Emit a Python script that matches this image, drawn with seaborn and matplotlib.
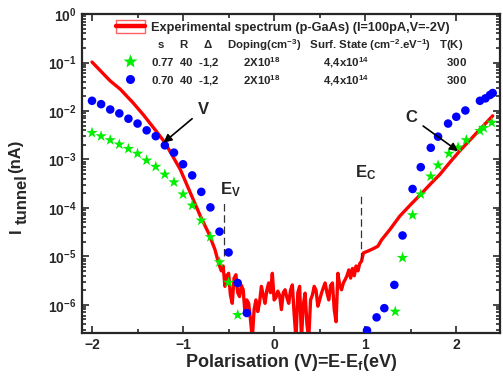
import numpy as np
import pandas as pd
import seaborn as sns
import matplotlib.pyplot as plt
from matplotlib.ticker import MultipleLocator, LogLocator, NullFormatter
from matplotlib.legend_handler import HandlerTuple
from matplotlib.patches import Rectangle
from matplotlib.lines import Line2D

sns.set_style("ticks")
plt.rcParams['font.family'] = ['Liberation Sans', 'DejaVu Sans']
plt.rcParams['font.weight'] = 'bold'
plt.rcParams['axes.labelweight'] = 'bold'
plt.rcParams['mathtext.default'] = 'regular'

# experimental spectrum: bias (V) and log10(I / nA)
exp_v = [-2.0, -1.8, -1.69, -1.55, -1.44, -1.31, -1.2, -1.03, -0.92, -0.81, -0.72, -0.65, -0.61,
         -0.58, -0.56, -0.54, -0.52, -0.50, -0.48, -0.46, -0.44, -0.42, -0.40, -0.38, -0.36, -0.34,
         -0.32, -0.30, -0.28, -0.26, -0.24, -0.22, -0.20, -0.18, -0.16, -0.14, -0.12, -0.10, -0.08,
         -0.06, -0.04, -0.02, 0.00, 0.02, 0.04, 0.06, 0.08, 0.10, 0.12, 0.14, 0.16, 0.18, 0.20,
         0.22, 0.24, 0.26, 0.28, 0.30, 0.32, 0.34, 0.36, 0.38, 0.40, 0.42, 0.44, 0.46, 0.48, 0.50,
         0.52, 0.54, 0.56, 0.58, 0.60, 0.62, 0.64, 0.66, 0.68, 0.70, 0.72, 0.74, 0.76, 0.78, 0.80,
         0.82, 0.84, 0.86, 0.88, 0.90, 0.92, 0.94, 0.96, 0.98,
         1.02, 1.08, 1.14, 1.18, 1.27, 1.38, 1.49, 1.61, 1.72, 1.82, 1.93, 2.04, 2.15, 2.26, 2.33, 2.40]
exp_log_i = [-0.99, -1.38, -1.55, -1.83, -2.07, -2.38, -2.65, -3.21, -3.69, -4.17, -4.52, -4.86, -5.14,
             -5.30, -5.20, -5.62, -5.40, -5.35, -5.80, -5.97, -5.45, -5.38, -5.75, -5.83, -5.60, -5.69,
             -6.17, -5.90, -5.97, -6.30, -6.70, -6.10, -5.90, -6.14, -5.95, -5.62, -5.80, -5.97, -5.70,
             -5.55, -5.75, -5.35, -5.90, -5.85, -5.72, -5.80, -6.10, -5.75, -5.69, -5.85, -5.97, -5.70, -5.59,
             -6.20, -6.70, -5.75, -5.62, -6.70, -6.00, -5.76, -6.40, -6.70, -5.90, -5.80, -5.62, -5.70, -6.03, -5.90,
             -5.76, -5.65, -5.55, -5.75, -5.90, -5.60, -5.55, -6.10, -6.35, -5.35, -5.60, -5.69, -5.55, -5.48, -5.40,
             -5.28, -5.45, -5.25, -5.40, -5.20, -5.30, -5.15, -5.10, -4.93,
             -4.90, -4.85, -4.79, -4.66, -4.45, -4.17, -3.95, -3.72, -3.50, -3.31, -3.06, -2.82, -2.60, -2.38, -2.24, -2.10]

# simulation s = 0.77 (stars)
sim77_v = [-2.0, -1.9, -1.8, -1.7, -1.6, -1.5, -1.4, -1.3, -1.2, -1.1, -1.0, -0.9, -0.8, -0.7, -0.6, -0.5, -0.4,
           1.33, 1.41, 1.52, 1.61, 1.72, 1.80, 1.92, 2.02, 2.11, 2.26, 2.30, 2.39]
sim77_log_i = [-2.45, -2.52, -2.60, -2.69, -2.78, -2.88, -3.02, -3.15, -3.31, -3.47, -3.72, -3.95, -4.26, -4.60,
               -5.12, -5.54, -6.21,
               -6.14, -5.03, -4.15, -3.72, -3.35, -3.12, -2.88, -2.75, -2.60, -2.41, -2.35, -2.24]

# simulation s = 0.70 (circles)
sim70_v = [-2.0, -1.9, -1.8, -1.7, -1.6, -1.5, -1.4, -1.3, -1.2, -1.1, -1.0, -0.9, -0.8, -0.7, -0.6, -0.5, -0.4, -0.3,
           1.02, 1.125, 1.21, 1.32, 1.41, 1.52, 1.61, 1.72, 1.80, 1.91, 2.0, 2.1, 2.26, 2.32, 2.37, 2.40]
sim70_log_i = [-1.79, -1.86, -1.97, -2.05, -2.16, -2.26, -2.40, -2.52, -2.71, -2.86, -3.10, -3.33, -3.67, -3.99,
               -4.49, -4.92, -5.55, -6.17,
               -6.53, -6.26, -6.07, -5.59, -4.57, -3.61, -3.16, -2.76, -2.53, -2.26, -2.12, -1.99, -1.79, -1.74,
               -1.67, -1.63]

ev_pos = -0.556
ec_pos = 0.95

exp_df = pd.DataFrame({"V": exp_v, "I": np.power(10.0, exp_log_i)})
s77_df = pd.DataFrame({"V": sim77_v, "I": np.power(10.0, sim77_log_i)})
s70_df = pd.DataFrame({"V": sim70_v, "I": np.power(10.0, sim70_log_i)})

fig = plt.figure(figsize=(5.03, 3.8), dpi=100)
ax = fig.add_axes([0.163, 0.124, 0.831, 0.839])

sns.lineplot(data=exp_df, x="V", y="I", sort=False, estimator=None, color="#ff0000", lw=2.4, ax=ax, zorder=2)
sns.scatterplot(data=s77_df, x="V", y="I", marker="*", s=75, color="#00ee00", edgecolor="none", ax=ax, zorder=3)
sns.scatterplot(data=s70_df, x="V", y="I", marker="o", s=38, color="#0000ff", edgecolor="none", ax=ax, zorder=3)

ax.set_yscale("log")
ax.set_xlim(-2.11, 2.48)
ax.set_ylim(10 ** -6.58, 1)
ax.xaxis.set_major_locator(MultipleLocator(1))
ax.xaxis.set_minor_locator(MultipleLocator(0.5))
ax.yaxis.set_major_locator(LogLocator(base=10, numticks=10))
ax.yaxis.set_minor_locator(LogLocator(base=10, subs=np.arange(2, 10), numticks=20))
ax.yaxis.set_minor_formatter(NullFormatter())
ax.tick_params(which="both", direction="in", top=True, right=True, width=1.2)
ax.tick_params(which="major", length=5, labelsize=10, pad=4)
ax.tick_params(which="minor", length=3)
for sp in ax.spines.values():
    sp.set_linewidth(1.6)
for lab in ax.get_xticklabels() + ax.get_yticklabels():
    lab.set_fontweight("bold")

ax.set_xlabel("Polarisation (V)=E-E$_f$(eV)", fontsize=13, labelpad=0)
ax.set_ylabel("")
ax.yaxis.label.set_visible(False)
# y label: "I" with a full-size, lowered "tunnel"
fig.text(16 / 503, 1 - 231 / 380, "I", rotation=90, fontsize=12, ha="center", va="center")
fig.text(22 / 503, 1 - 199 / 380, "tunnel", rotation=90, fontsize=12, ha="center", va="center")
fig.text(16 / 503, 1 - 156 / 380, "(nA)", rotation=90, fontsize=12, ha="center", va="center")

# band edges
ax.vlines(ev_pos, 10 ** -5.0, 10 ** -3.86, colors="#333333", linestyles=(0, (6, 3)), lw=0.9)
ax.vlines(ec_pos, 10 ** -5.07, 10 ** -3.69, colors="#333333", linestyles=(0, (6, 3)), lw=0.9)
ax.text(-0.48, 10 ** -3.62, "E$_V$", fontsize=12, ha="center", va="center")
ax.text(1.0, 10 ** -3.27, "E$_C$", fontsize=12, ha="center", va="center")

ax.annotate("V", xy=(-1.215, 10 ** -2.655), xytext=(-0.78, 10 ** -1.97), fontsize=12,
            ha="center", va="center",
            arrowprops=dict(arrowstyle="-|>", color="black", lw=1.2, shrinkA=2, shrinkB=0))
ax.annotate("C", xy=(2.02, 10 ** -2.83), xytext=(1.51, 10 ** -2.14), fontsize=12,
            ha="center", va="center",
            arrowprops=dict(arrowstyle="-|>", color="black", lw=1.2, shrinkA=2, shrinkB=0))

red_h = (Rectangle((0, 0), 1, 1, fill=False, edgecolor="#ff6060", lw=1.0),
         Line2D([], [], color="#ff0000", lw=3.2))
blank_h = Line2D([], [], ls="none")
star_h = Line2D([], [], ls="none", marker="*", color="#00ee00", ms=10, mec="none")
dot_h = Line2D([], [], ls="none", marker="o", color="#0000ff", ms=6.5, mec="none")
labels = [
    "Experimental spectrum (p-GaAs) (I=100pA,V=-2V)",
    "  s     R     \u0394     Doping(cm$^{-3}$)   Surf. State (cm$^{-2}$.eV$^{-1}$)   T(K)",
    "0.77  40  -1,2        2X10$^{18}$              4,4x10$^{14}$                         300",
    "0.70  40  -1,2        2X10$^{18}$              4,4x10$^{14}$                         300",
]
leg = ax.legend([red_h, blank_h, star_h, dot_h], labels,
                handler_map={tuple: HandlerTuple(ndivide=1, pad=0)},
                loc="upper left", bbox_to_anchor=(0.081, 0.98), frameon=False,
                prop=dict(size=9, weight="bold"), handlelength=2.3, handleheight=1.2,
                handletextpad=0.55, labelspacing=0.22, borderpad=0, borderaxespad=0)
for i, t in enumerate(leg.get_texts()):
    t.set_fontsize(9.2 if i == 0 else 8.2)

fig.savefig("out.png", dpi=100)
